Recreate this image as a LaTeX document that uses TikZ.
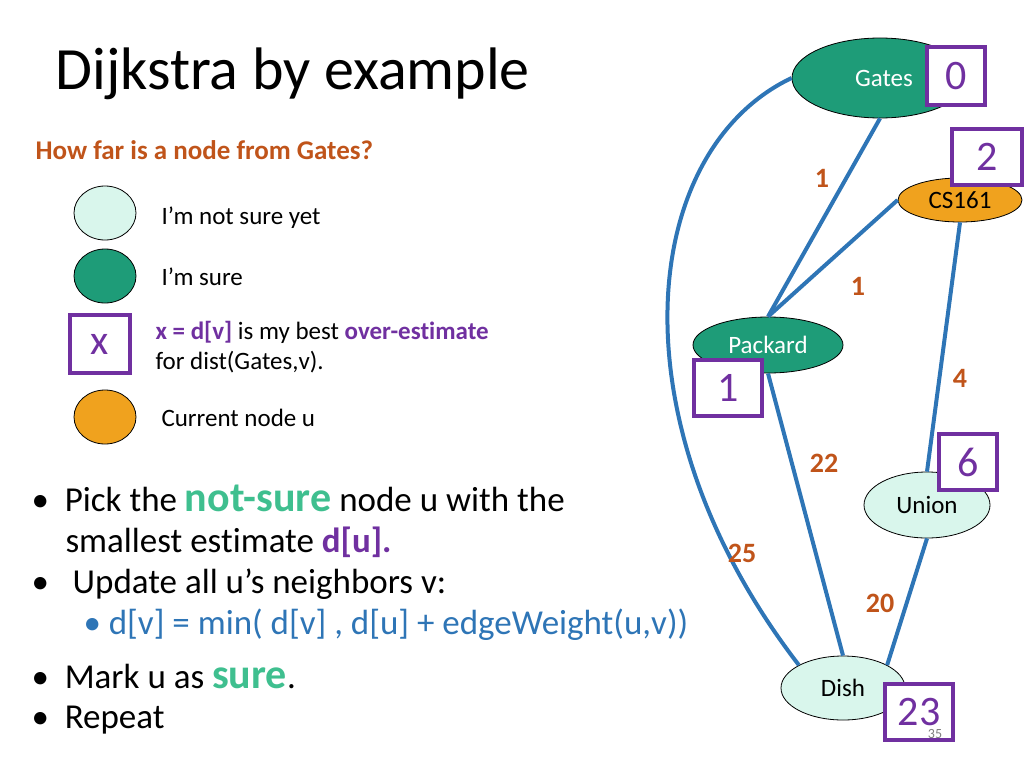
\documentclass[tikz,border=0pt]{standalone}
\usepackage{fontspec}
\setmainfont{Carlito}[Ligatures=NoCommon]
\usetikzlibrary{shapes.geometric}
\definecolor{dg}{HTML}{1E9C78}
\definecolor{lg}{HTML}{D9F6EC}
\definecolor{og}{HTML}{F0A21E}
\definecolor{pu}{HTML}{7030A0}
\definecolor{bl}{HTML}{2E75B6}
\definecolor{br}{HTML}{C0541A}
\definecolor{ns}{HTML}{3FBF8F}
\begin{document}
\begin{tikzpicture}[x=1pt,y=-1pt,
 gn/.style={ellipse,draw=black,line width=0.8pt,inner sep=0pt,font=\fontsize{25}{28}\selectfont},
 bx/.style={draw=pu,line width=3.5pt,fill=white,inner sep=0pt,font=\fontsize{42}{42}\selectfont,text=pu},
 ed/.style={draw=bl,line width=4pt},
 wl/.style={text=br,font=\bfseries\fontsize{28}{28}\selectfont},
 tx/.style={anchor=west,font=\fontsize{25}{30}\selectfont}]
\useasboundingbox (0,0) rectangle (1024,768);
\node[anchor=west,font=\fontsize{60}{62}\selectfont] (title) at (52,74) {Dijkstra by example};
\node[anchor=west,text=br,font=\bfseries\fontsize{27}{30}\selectfont] (q) at (32,150) {How far is a node from Gates?};
% legend
\node[gn,fill=lg,minimum width=62pt,minimum height=54pt] (l1) at (105,213) {};
\node[tx] (t1) at (158,218) {I’m not sure yet};
\node[gn,fill=dg,minimum width=62pt,minimum height=54pt] (l2) at (105,276) {};
\node[tx] (t2) at (158,277) {I’m sure};
\node[bx,minimum width=60pt,minimum height=58pt] (l3) at (100,344) {x};
\node[tx,align=left] (t3) at (152,347) {\textcolor{pu}{\textbf{x = d[v]}} is my best \textcolor{pu}{\textbf{over-estimate}}\\for dist(Gates,v).};
\node[gn,fill=og,minimum width=62pt,minimum height=54pt] (l4) at (105,417) {};
\node[tx] (t4) at (158,418) {Current node u};
% bullets
\begin{scope}[every node/.style={anchor=west,font=\fontsize{35}{38}\selectfont}]
\node (b1) at (28,498) {\textbullet\ \ Pick the \textcolor{ns}{\textbf{\fontsize{42}{42}\selectfont not-sure}} node u with the};
\node (b2) at (62,542) {smallest estimate \textcolor{pu}{\textbf{d[u].}}};
\node (b3) at (28,584) {\textbullet\ \ \ Update all u’s neighbors v:};
\node[text=bl] (b4) at (80,625) {\textbullet\ d[v] = min( d[v] , d[u] + edgeWeight(u,v))};
\node (b5) at (28,676) {\textbullet\ \ Mark u as \textcolor{ns}{\textbf{\fontsize{42}{42}\selectfont sure}}.};
\node (b6) at (28,720) {\textbullet\ \ Repeat};
\end{scope}
% graph nodes
\node[gn,fill=dg,minimum width=176pt,minimum height=80pt,text=white] (G) at (880,78) {\hspace*{8pt}Gates};
\node[gn,fill=og,minimum width=124pt,minimum height=44pt] (C) at (960,200) {CS161};
\node[gn,fill=dg,minimum width=150pt,minimum height=56pt,text=white] (P) at (768,345) {Packard};
\node[gn,fill=lg,minimum width=126pt,minimum height=66pt] (U) at (927,505) {Union};
\node[gn,fill=lg,minimum width=124pt,minimum height=64pt] (D) at (843,688) {Dish};
% edges
\draw[ed] (G.south) -- (P.north);
\draw[ed] (C.west) -- (P.north);
\draw[ed] (C.south) -- (U.north);
\draw[ed] (P.south) -- (D.north);
\draw[ed] (U.south) -- (D.north east);
\draw[ed] (G.west) .. controls (640,150) and (610,420) .. (D.north west);
\node[wl] (w1) at (822,178) {1};
\node[wl] (w2) at (858,286) {1};
\node[wl] (w3) at (960,378) {4};
\node[wl] (w4) at (824,463) {22};
\node[wl] (w5) at (742,553) {25};
\node[wl] (w6) at (880,603) {20};
% boxes
\node[bx,minimum width=58pt,minimum height=58pt] (bG) at (956,76) {0};
\node[bx,minimum width=70pt,minimum height=56pt] (bC) at (987,157) {2};
\node[bx,minimum width=68pt,minimum height=56pt] (bP) at (728,388) {1};
\node[bx,minimum width=58pt,minimum height=56pt] (bU) at (968,462) {6};
\node[bx,minimum width=68pt,minimum height=56pt] (bD) at (919,712) {23};
\node[text=gray,font=\fontsize{14}{14}\selectfont] (pg) at (935,734) {35};
\end{tikzpicture}
\end{document}
